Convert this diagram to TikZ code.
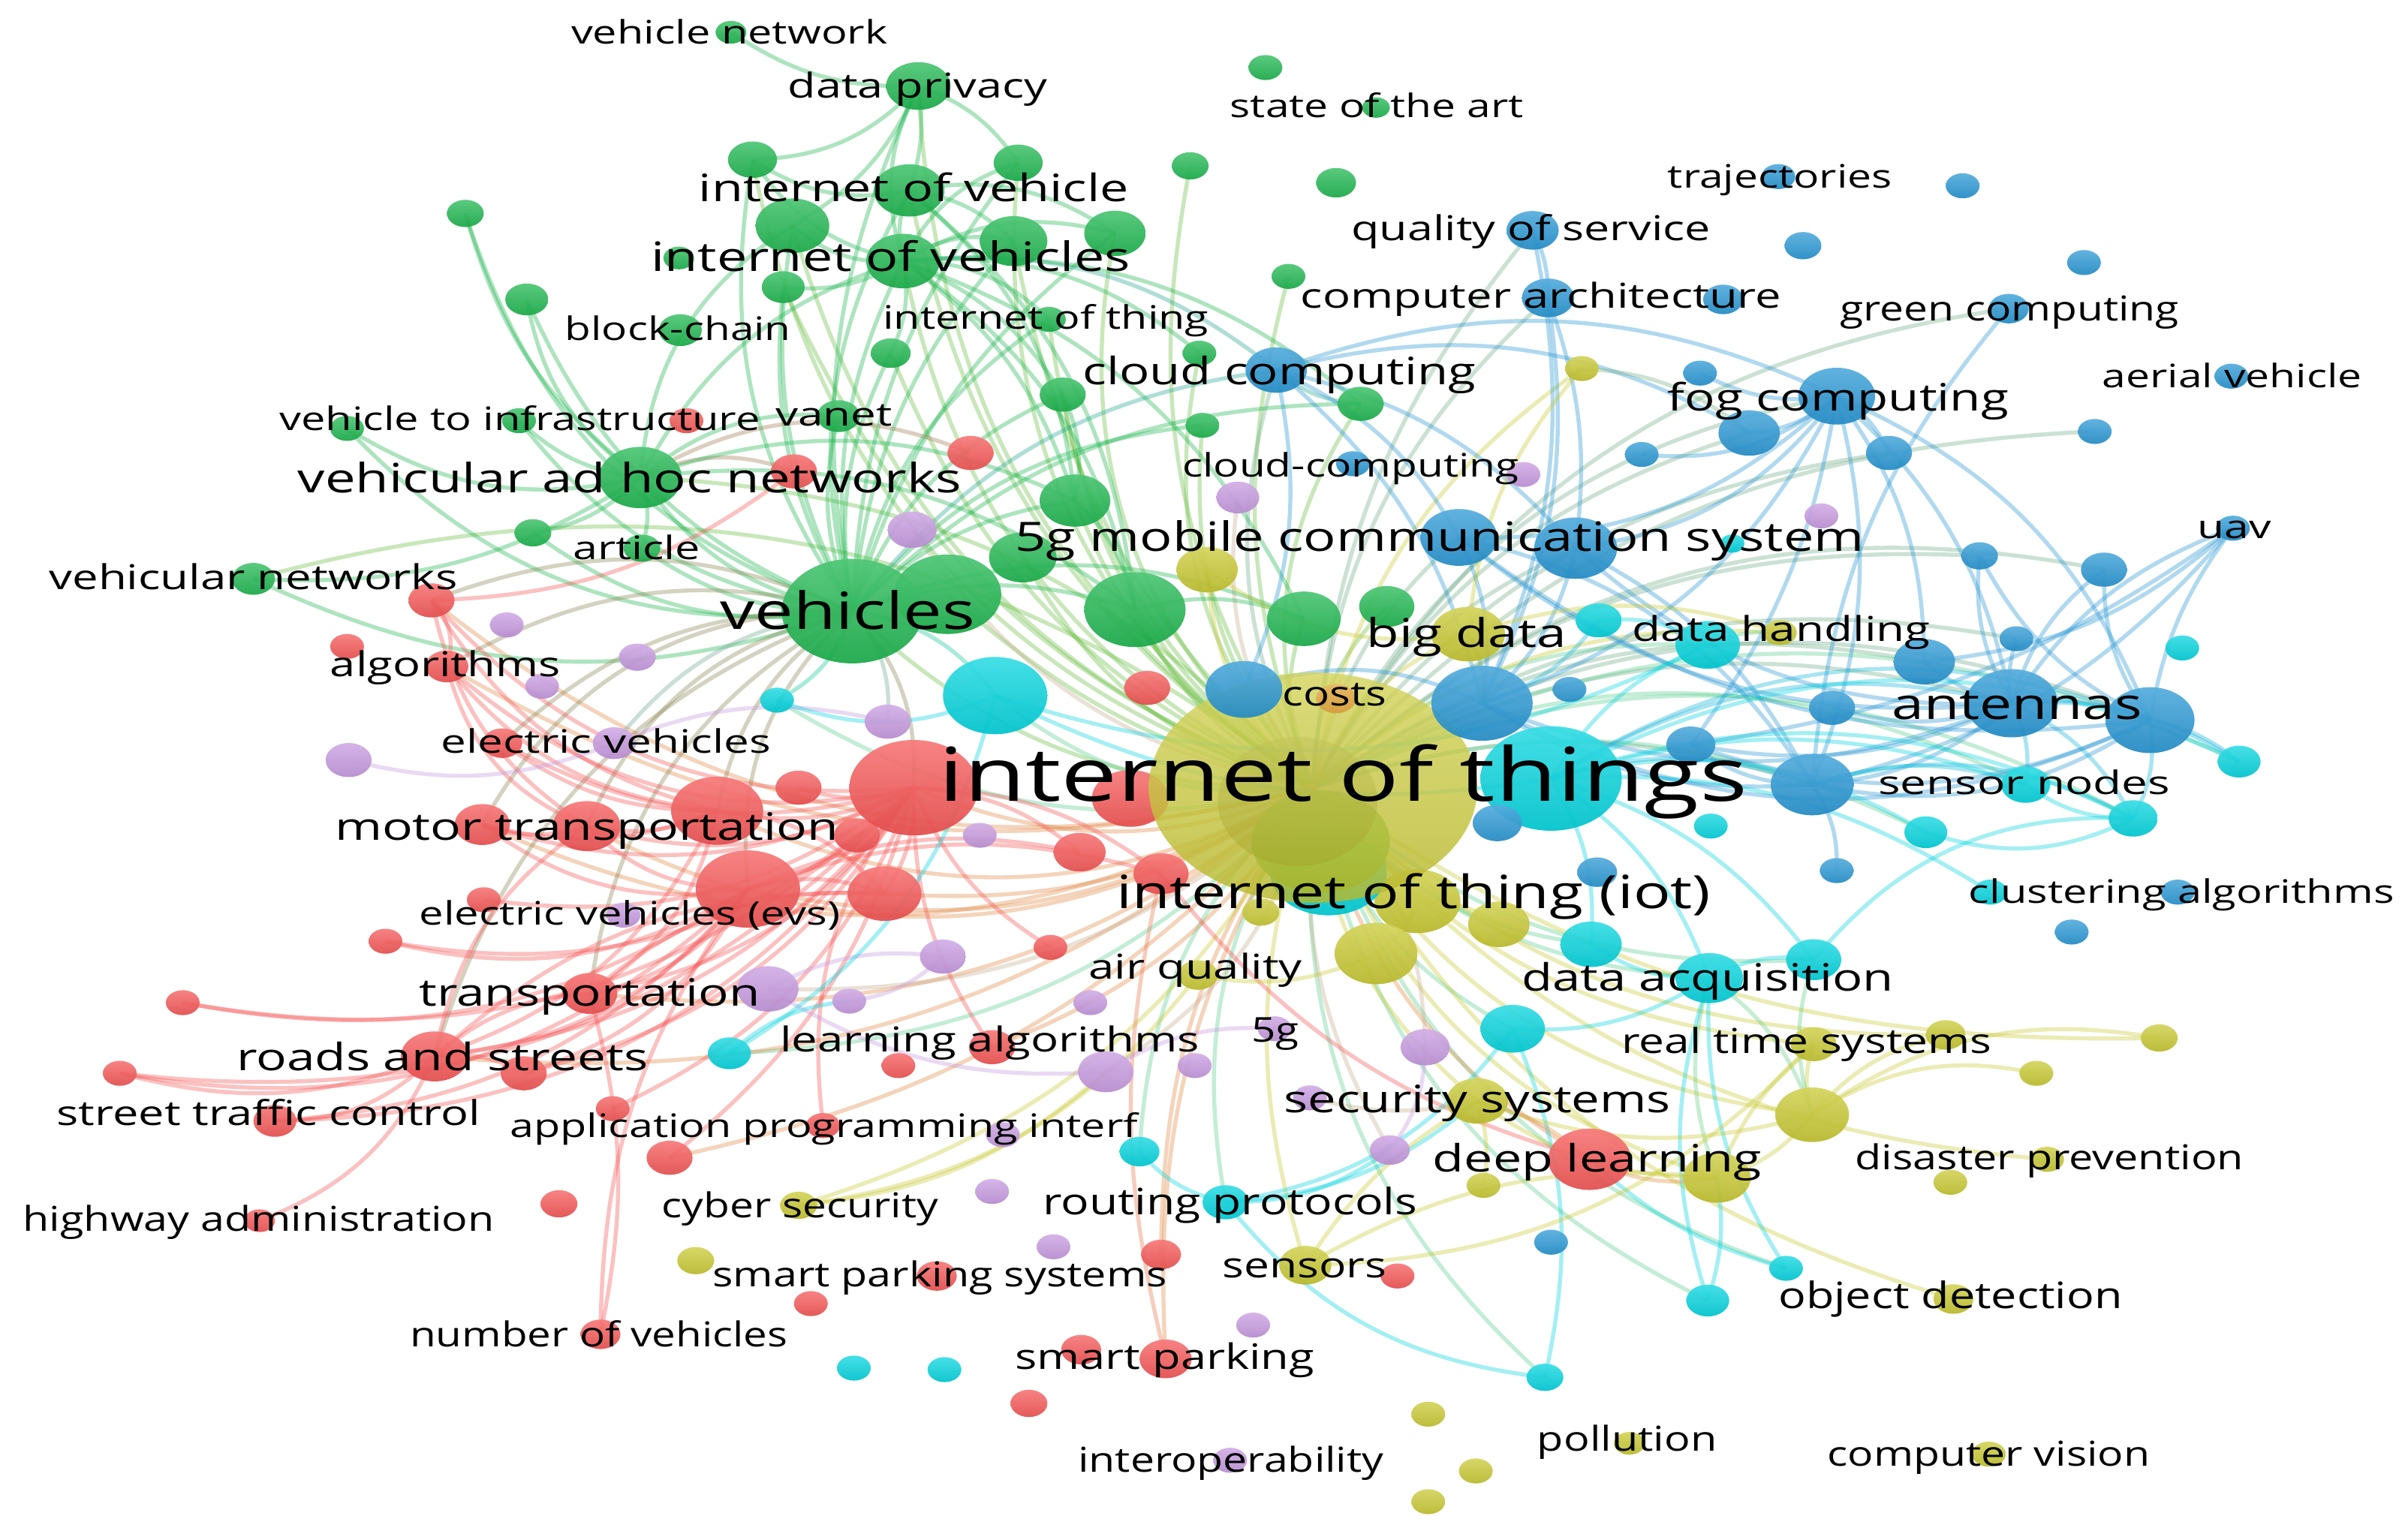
\documentclass[tikz,border=0pt]{standalone}
\usepackage{fontspec}
\setmainfont{Open Sans}
\usepackage{graphicx}
\usetikzlibrary{shapes.geometric}
\pgfdeclarelayer{bgl}
\pgfdeclarelayer{edges}
\pgfsetlayers{bgl,edges,main}
\definecolor{cG}{RGB}{28,182,78}
\definecolor{cR}{RGB}{246,84,84}
\definecolor{cB}{RGB}{38,150,212}
\definecolor{cY}{RGB}{200,200,48}
\definecolor{cP}{RGB}{198,152,224}
\definecolor{cC}{RGB}{0,212,222}
\definecolor{cO}{RGB}{232,150,50}
\tikzset{
 ball/.style={ellipse, inner sep=0pt, outer sep=0pt, draw=none, top color=#1!78!white, bottom color=#1!92!black, fill opacity=0.93},
 lbl/.style={inner sep=0pt, outer sep=0pt, text=black, yshift=-0.04cm},
 ed/.style={line width=1.5pt, draw=#1, draw opacity=0.36},
}
\newcommand\nd[5]{\node[ball=#2, minimum width=#5*0.04cm, minimum height=#5*0.0296cm] (#1) at (#3,#4) {};}
\newcommand\lab[6]{\node[lbl] (#1) at (#2,#3) {\resizebox{\dimexpr 0.02cm*#5\relax}{\height}{\fontsize{#4}{#4}\selectfont\vphantom{hg}#6}};}
\newcommand\edges[1]{\foreach \a/\b/\c/\d in {#1}{\pgfmathsetmacro\dd{2.2*\d}\draw[ed=\c] (\a.center) to[bend left=\dd] (\b.center);}}
\begin{document}
\begin{tikzpicture}[x=0.02cm,y=-0.02cm]
\useasboundingbox (0,0) rectangle (1568,1002.5);
\begin{pgfonlayer}{bgl}
\fill[white] (0,0) rectangle (1568,1002.5);
\end{pgfonlayer}
% ---------------- green
\nd{g1}{cG}{476}{21}{10}
\nd{g2}{cG}{598}{56}{21}
\nd{g3}{cG}{824}{44}{11}
\nd{g4}{cG}{896}{70}{9}
\nd{g5}{cG}{490}{104}{16}
\nd{g6}{cG}{663}{106}{16}
\nd{g7}{cG}{775}{108}{12}
\nd{g8}{cG}{870}{119}{13}
\nd{g9}{cG}{592}{124}{23}
\nd{g10}{cG}{303}{139}{12}
\nd{g11}{cG}{516}{147}{24}
\nd{g12}{cG}{660}{157}{22}
\nd{g13}{cG}{726}{152}{20}
\nd{g14}{cG}{588}{170}{24}
\nd{g15}{cG}{442}{168}{10}
\nd{g16}{cG}{839}{180}{11}
\nd{g17}{cG}{510}{187}{14}
\nd{g18}{cG}{343}{195}{14}
\nd{g19}{cG}{443}{215}{14}
\nd{g20}{cG}{683}{208}{11}
\nd{g21}{cG}{580}{230}{13}
\nd{g22}{cG}{781}{230}{11}
\nd{g23}{cG}{692}{257}{15}
\nd{g24}{cG}{886}{263}{15}
\nd{g25}{cG}{546}{271}{14}
\nd{g26}{cG}{783}{277}{11}
\nd{g27}{cG}{226}{279}{11}
\nd{g28}{cG}{338}{274}{11}
\nd{g29}{cG}{417}{311}{27}
\nd{g30}{cG}{700}{326}{23}
\nd{g31}{cG}{347}{347}{12}
\nd{g32}{cG}{418}{357}{12}
\nd{g33}{cG}{165}{377}{14}
\nd{g36}{cG}{666}{363}{22}
\nd{g37}{cG}{739}{397}{33}
\nd{g38}{cG}{849}{403}{24}
\nd{g39}{cG}{903}{395}{18}
\nd{g35}{cG}{617}{387}{35}
\nd{g34}{cG}{555}{398}{46}
% ---------------- red
\nd{r1}{cR}{447}{274}{11}
\nd{r2}{cR}{517}{307}{15}
\nd{r3}{cR}{632}{295}{15}
\nd{r4}{cR}{281}{391}{15}
\nd{r5}{cR}{226}{421}{11}
\nd{r6}{cR}{291}{434}{14}
\nd{r7}{cR}{327}{484}{13}
\nd{r8}{cR}{747}{448}{15}
\nd{r11}{cR}{520}{513}{15}
\nd{r12}{cR}{314}{537}{18}
\nd{r13}{cR}{382}{538}{22}
\nd{r14}{cR}{467}{528}{30}
\nd{r15}{cR}{558}{544}{15}
\nd{r16}{cR}{487}{579}{34}
\nd{r17}{cR}{576}{582}{24}
\nd{r18}{cR}{703}{555}{17}
\nd{r19}{cR}{756}{569}{18}
\nd{r9}{cR}{595}{513}{42}
\nd{r20}{cR}{315}{586}{11}
\nd{r21}{cR}{251}{613}{11}
\nd{r22}{cR}{684}{617}{11}
\nd{r23}{cR}{119}{653}{11}
\nd{r24}{cR}{384}{647}{18}
\nd{r25}{cR}{283}{688}{22}
\nd{r26}{cR}{341}{699}{15}
\nd{r27}{cR}{78}{699}{11}
\nd{r28}{cR}{179}{730}{14}
\nd{r29}{cR}{399}{722}{11}
\nd{r30}{cR}{436}{754}{15}
\nd{r31}{cR}{364}{784}{12}
\nd{r32}{cR}{169}{795}{10}
\nd{r33}{cR}{391}{869}{13}
\nd{r34}{cR}{646}{682}{15}
\nd{r35}{cR}{585}{694}{11}
\nd{r36}{cR}{536}{733}{11}
\nd{r37}{cR}{1035}{755}{27}
\nd{r38}{cR}{756}{817}{13}
\nd{r39}{cR}{610}{831}{13}
\nd{r40}{cR}{528}{849}{11}
\nd{r41}{cR}{910}{831}{11}
\nd{r42}{cR}{704}{879}{13}
\nd{r43}{cR}{759}{885}{17}
\nd{r44}{cR}{670}{914}{12}
% ---------------- purple
\nd{p1}{cP}{992}{309}{11}
\nd{p2}{cP}{806}{324}{14}
\nd{p3}{cP}{594}{345}{16}
\nd{p4}{cP}{330}{407}{11}
\nd{p5}{cP}{415}{428}{12}
\nd{p6}{cP}{353}{447}{11}
\nd{p7}{cP}{227}{495}{15}
\nd{p8}{cP}{400}{484}{14}
\nd{p9}{cP}{578}{470}{15}
\nd{p10}{cP}{638}{544}{11}
\nd{p11}{cP}{406}{596}{11}
\nd{p12}{cP}{500}{644}{20}
\nd{p13}{cP}{614}{623}{15}
\nd{p14}{cP}{553}{652}{11}
\nd{p15}{cP}{710}{653}{11}
\nd{p16}{cP}{830}{670}{11}
\nd{p17}{cP}{720}{698}{18}
\nd{p18}{cP}{778}{694}{11}
\nd{p19}{cP}{928}{682}{16}
\nd{p20}{cP}{653}{739}{11}
\nd{p21}{cP}{853}{715}{11}
\nd{p22}{cP}{905}{749}{13}
\nd{p23}{cP}{646}{776}{11}
\nd{p24}{cP}{686}{812}{11}
\nd{p25}{cP}{816}{863}{11}
\nd{p26}{cP}{801}{951}{11}
\nd{p27}{cP}{1186}{336}{11}
% ---------------- blue
\nd{b1}{cB}{998}{150}{17}
\nd{b2}{cB}{1008}{194}{17}
\nd{b3}{cB}{1158}{115}{11}
\nd{b4}{cB}{1278}{121}{11}
\nd{b5}{cB}{1174}{160}{12}
\nd{b6}{cB}{1357}{171}{11}
\nd{b7}{cB}{1122}{195}{13}
\nd{b8}{cB}{1308}{201}{13}
\nd{b9}{cB}{1107}{243}{11}
\nd{b10}{cB}{1453}{245}{11}
\nd{b12}{cB}{1139}{282}{20}
\nd{b11}{cB}{1196}{258}{25}
\nd{b13}{cB}{1364}{281}{11}
\nd{b14}{cB}{1069}{296}{11}
\nd{b15}{cB}{1230}{295}{15}
\nd{b16}{cB}{831}{241}{20}
\nd{b17}{cB}{881}{302}{11}
\nd{b18}{cB}{950}{350}{25}
\nd{b19}{cB}{1026}{357}{27}
\nd{b20}{cB}{1289}{362}{12}
\nd{b21}{cB}{1370}{371}{15}
\nd{b22}{cB}{1454}{344}{11}
\nd{b23}{cB}{1313}{416}{11}
\nd{b24}{cB}{1253}{431}{20}
\nd{b25}{cB}{1310}{458}{30}
\nd{b26}{cB}{1400}{469}{29}
\nd{b27}{cB}{1193}{461}{15}
\nd{b28}{cB}{1101}{485}{16}
\nd{b29}{cB}{1180}{511}{27}
\nd{b32}{cB}{1022}{449}{11}
\nd{b34}{cB}{1196}{567}{11}
\nd{b35}{cB}{1349}{607}{11}
\nd{b36}{cB}{1418}{581}{11}
\nd{b37}{cB}{1010}{809}{11}
\nd{b39}{cB}{1040}{568}{13}
% ---------------- cyan
\nd{c1}{cC}{506}{456}{11}
\nd{c2}{cC}{648}{453}{34}
\nd{c3}{cC}{1041}{404}{15}
\nd{c4}{cC}{1112}{420}{21}
\nd{c5}{cC}{1128}{354}{8}
\nd{c6}{cC}{1421}{422}{11}
\nd{c8}{cC}{1458}{496}{14}
\nd{c9}{cC}{1319}{511}{16}
\nd{c10}{cC}{1114}{538}{11}
\nd{c11}{cC}{1254}{542}{14}
\nd{c12}{cC}{1389}{533}{16}
\nd{c13}{cC}{1296}{581}{11}
\nd{c14}{cC}{1181}{625}{18}
\nd{c15}{cC}{1113}{637}{22}
\nd{c16}{cC}{1036}{615}{20}
\nd{c17}{cC}{985}{670}{21}
\nd{c18}{cC}{475}{686}{14}
\nd{c19}{cC}{742}{750}{13}
\nd{c20}{cC}{798}{783}{15}
\nd{c21}{cC}{556}{891}{11}
\nd{c22}{cC}{615}{892}{11}
\nd{c23}{cC}{1006}{897}{12}
\nd{c24}{cC}{1163}{826}{11}
\nd{c25}{cC}{1112}{847}{14}
% ---------------- yellow
\nd{y1}{cY}{1030}{240}{11}
\nd{y2}{cY}{786}{371}{20}
\nd{y3}{cY}{956}{413}{24}
\nd{y4}{cY}{1159}{412}{11}
\nd{y7}{cY}{821}{594}{12}
\nd{y9}{cY}{976}{602}{20}
\nd{y8}{cY}{923}{587}{28}
\nd{y10}{cY}{896}{621}{27}
\nd{y11}{cY}{780}{635}{13}
\nd{y12}{cY}{1181}{680}{15}
\nd{y13}{cY}{1267}{674}{13}
\nd{y14}{cY}{1406}{676}{12}
\nd{y15}{cY}{1326}{699}{11}
\nd{y16}{cY}{1180}{726}{24}
\nd{y17}{cY}{962}{717}{20}
\nd{y18}{cY}{966}{772}{11}
\nd{y19}{cY}{1118}{767}{22}
\nd{y20}{cY}{1333}{755}{11}
\nd{y21}{cY}{1270}{770}{11}
\nd{y22}{cY}{1272}{846}{13}
\nd{y23}{cY}{520}{785}{12}
\nd{y24}{cY}{453}{821}{12}
\nd{y25}{cY}{850}{824}{17}
\nd{y26}{cY}{930}{921}{11}
\nd{y27}{cY}{961}{958}{11}
\nd{y28}{cY}{930}{978}{11}
\nd{y29}{cY}{1061}{940}{10}
\nd{y30}{cY}{1295}{947}{11}
% ---------------- central cluster
\nd{c26}{cC}{865}{568}{38}
\nd{g40}{cG!70!cY}{860}{548}{45}
\nd{r10}{cR}{736}{520}{25}
\nd{c7}{cC}{1010}{507}{46}
\node[ball=cY, minimum width=214*0.02cm, minimum height=150*0.02cm, fill opacity=0.82] (y5) at (855,513) {};
\node[ball=cY!88!black, minimum width=104*0.02cm, minimum height=84*0.02cm, fill opacity=0.45] (y6) at (845,522) {};
\nd{b30}{cB}{810}{449}{25}
\nd{b31}{cB}{965}{458}{33}
\node[ball=cO, minimum width=26*0.02cm, minimum height=19*0.02cm, fill opacity=0.7] (o1) at (870,455) {};
\nd{b33}{cB}{975}{536}{16}
% ---------------- edges
\begin{pgfonlayer}{edges}
\edges{
y5/g2/cG!55!cY/12, y5/g9/cG!55!cY/10, y5/g14/cG!55!cY/12, y5/g12/cG!55!cY/8, y5/g13/cG!55!cY/14, y5/g21/cG!55!cY/10, y5/g23/cG!55!cY/10, y5/g30/cG!55!cY/8, y5/g34/cG!55!cY/10, y5/g35/cG!55!cY/6, y5/g36/cG!55!cY/10, y5/g37/cG!55!cY/8, y5/g38/cG!55!cY/10, y5/g39/cG!55!cY/10, y5/g24/cG!55!cY/12, y5/g26/cG!55!cY/10, y5/g6/cG!55!cY/14, y5/g7/cG!55!cY/10, y5/g5/cG!55!cY/14, y5/g11/cG!55!cY/12, y5/g17/cG!55!cY/10, y5/g29/cG!55!cY/-10, y5/g33/cG!55!cY/-12, y5/g20/cG!55!cY/10, y5/g22/cG!55!cY/12, y5/g16/cG!55!cY/8,
y5/b16/cB!55!cY/10, y5/b11/cB!55!cY/12, y5/b12/cB!55!cY/10, y5/b18/cB!55!cY/8, y5/b19/cB!55!cY/8, y5/b25/cB!55!cY/10, y5/b26/cB!55!cY/12, y5/b29/cB!55!cY/8, y5/b24/cB!55!cY/10, y5/b21/cB!55!cY/12, y5/b20/cB!55!cY/10, y5/b15/cB!55!cY/10, y5/b1/cB!55!cY/8, y5/b2/cB!55!cY/10, y5/b8/cB!55!cY/12, y5/b13/cB!55!cY/10, y5/b23/cB!55!cY/10,
y5/c2/cC!55!cY/10, y5/c4/cC!55!cY/10, y5/c9/cC!55!cY/12, y5/c11/cC!55!cY/10, y5/c12/cC!55!cY/12, y5/c14/cC!55!cY/-10, y5/c15/cC!55!cY/-10, y5/c16/cC!55!cY/-10, y5/c17/cC!55!cY/-10, y5/c19/cC!55!cY/-10, y5/c20/cC!55!cY/-10, y5/c23/cC!55!cY/-12, y5/c24/cC!55!cY/-12, y5/c25/cC!55!cY/-12, y5/c8/cC!55!cY/12, y5/c18/cC!55!cY/10, y5/c1/cC!55!cY/10,
y5/r9/cR!55!cY/10, y5/r14/cR!55!cY/12, y5/r16/cR!55!cY/10, y5/r13/cR!55!cY/14, y5/r17/cR!55!cY/8, y5/r24/cR!55!cY/10, y5/r25/cR!55!cY/10, y5/r37/cR!55!cY/-10, y5/r43/cR!55!cY/-8, y5/r38/cR!55!cY/-8, y5/r12/cR!55!cY/12, y5/r4/cR!55!cY/12, y5/r6/cR!55!cY/10, y5/r34/cR!55!cY/8, y5/r30/cR!55!cY/8,
y5/y12/cY/-10, y5/y16/cY/-12, y5/y17/cY/-10, y5/y19/cY/-12, y5/y22/cY/-10, y5/y25/cY/-8, y5/y13/cY/-10, y5/y14/cY/-8, y5/y3/cY/10, y5/y4/cY/10, y5/y2/cY/10, y5/y23/cY/10, y5/y1/cY/10, y5/y20/cY/-10,
y5/p12/cP!55!cY/10, y5/p17/cP!55!cY/10, y5/p19/cP!55!cY/10, y5/p22/cP!55!cY/-8, y5/p3/cP!55!cY/10, y5/p2/cP!55!cY/10}
\edges{
g34/g29/cG/10, g34/g33/cG/10, g34/g32/cG/8, g34/g31/cG/10, g34/g25/cG/8, g34/g14/cG/8, g34/g9/cG/10, g34/g11/cG/8, g34/g5/cG/10, g34/g18/cG/10, g34/g17/cG/8, g34/g21/cG/8, g34/g23/cG/10, g34/g30/cG/8, g34/g37/cG/8, g34/g38/cG/10, g34/g28/cG/10, g34/g27/cG/12, g34/g10/cG/12, g34/g2/cG/8, g34/g6/cG/8, g34/g12/cG/8, g34/g13/cG/8, g34/g24/cG/10, g34/g26/cG/10, g34/g20/cG/10,
g34/r9/cG!50!cR/10, g34/r14/cG!50!cR/-10, g34/r16/cG!50!cR/-12, g34/r13/cG!50!cR/-12, g34/r12/cG!50!cR/-14, g34/r4/cG!50!cR/-10, g34/r6/cG!50!cR/-10, g34/r24/cG!50!cR/-12, g34/r25/cG!50!cR/-12, g34/r7/cG!50!cR/-10,
g34/b16/cG!50!cB/10, g34/c2/cG!50!cC/10, g34/c1/cG!50!cC/10, g34/p8/cG!50!cP/-10, g34/p9/cG!50!cP/10,
g29/g33/cG/8, g29/g31/cG/8, g29/g32/cG/8, g29/g18/cG/10, g29/g28/cG/8, g29/g27/cG/10, g29/g25/cG/10, g29/g14/cG/10, g29/g11/cG/12, g29/g37/cG/10, g29/r2/cR!60!cG/10, g29/r3/cR!60!cG/12, g29/g30/cG/10, g29/g10/cG/8,
g14/g2/cG/10, g14/g5/cG/10, g14/g6/cG/10, g14/g9/cG/8, g14/g11/cG/10, g14/g12/cG/10, g14/g13/cG/10, g14/g17/cG/8, g14/g20/cG/10, g14/g21/cG/8, g14/g22/cG/10, g14/g23/cG/8, g14/g30/cG/8, g14/b16/cG!50!cB/10, g14/g37/cG/10, g14/g38/cG/10, g14/g24/cG/10,
g2/g1/cG/8, g2/g5/cG/10, g2/g6/cG/8, g2/g9/cG/6, g2/g11/cG/8,
g9/g5/cG/10, g9/g12/cG/8, g9/g13/cG/10, g9/g30/cG/10, g9/g37/cG/10,
g37/g38/cG/8, g30/g37/cG/8, g23/g30/cG/8, g24/b16/cG!50!cB/8}
\edges{
r9/r12/cR/10, r9/r13/cR/10, r9/r14/cR/8, r9/r16/cR/8, r9/r17/cR/8, r9/r24/cR/10, r9/r25/cR/10, r9/r26/cR/10, r9/r28/cR/12, r9/r4/cR/12, r9/r6/cR/12, r9/r7/cR/10, r9/r20/cR/10, r9/r21/cR/12, r9/r23/cR/12, r9/r27/cR/12, r9/r29/cR/10, r9/r30/cR/8, r9/r34/cR/-8, r9/r22/cR/-8, r9/r18/cR/8, r9/r19/cR/8, r9/r11/cR/8, r9/r15/cR/8, r9/r36/cR/-10,
r16/r24/cR/10, r16/r25/cR/10, r16/r13/cR/10, r16/r12/cR/10, r16/r28/cR/10, r16/r33/cR/-8, r16/r26/cR/10, r16/r21/cR/10, r16/r23/cR/10, r16/r27/cR/12, r16/r17/cR/8, r16/r18/cR/8, r16/r19/cR/8,
r14/r4/cR/10, r14/r6/cR/10, r14/r12/cR/8, r14/r13/cR/8, r14/r25/cR/10, r14/r24/cR/10, r14/r7/cR/8, r14/r17/cR/10,
r25/r28/cR/10, r25/r32/cR/10, r25/r27/cR/8, r25/r24/cR/8, r25/r26/cR/8, r25/r13/cR/10, r25/r17/cR/10,
r13/r4/cR/10, r13/r12/cR/8, r13/r6/cR/12, r4/r6/cR/14, r4/r2/cR/-8,
r19/r43/cR!70!cY/-6, r19/r37/cR/-8, r24/r17/cR/10, r24/r33/cR/6,
p17/p12/cP/8, p12/p13/cP/8, p17/p16/cP/8, p19/p22/cP/8, p13/p14/cP/8, p8/p7/cP/8, p8/p9/cP/8}
\edges{
b11/b12/cB/8, b11/b14/cB/10, b11/b15/cB/8, b11/b19/cB/10, b11/b25/cB/8, b11/b26/cB/10, b11/b29/cB/8, b11/b31/cB/10, b11/b18/cB/10, b11/b9/cB/8, b11/b28/cB/6, b11/b24/cB/8,
b8/b29/cB/-8, b1/b2/cB/6, b2/b19/cB/6, b2/b31/cB/8, b1/b31/cB/8,
b25/b20/cB/8, b25/b21/cB/8, b25/b22/cB/8, b25/b23/cB/6, b25/b24/cB/6, b25/b26/cB/6, b25/b27/cB/8, b25/b28/cB/8, b25/b29/cB/8, b25/b31/cB/10, b25/b19/cB/10, b25/b18/cB/10, b25/c8/cC!50!cB/8, b25/c12/cC!50!cB/8, b25/c9/cC!50!cB/8,
b26/b21/cB/8, b26/b22/cB/6, b26/c8/cC!50!cB/6, b26/c12/cC!50!cB/8, b26/b29/cB/10, b26/b28/cB/10, b26/b31/cB/12, b26/b20/cB/8, b26/b18/cB/10,
b22/b24/cB/8, b22/b29/cB/8, b22/b28/cB/6,
b16/b18/cB/8, b16/b19/cB/8, b16/b31/cB/8, b16/b30/cB/8, b16/b11/cB/10, b16/b12/cB/10,
b18/b31/cB/8, b19/b31/cB/8, b19/b29/cB/8, b18/b29/cB/10, b30/b31/cB/10,
b29/b28/cB/8, b29/b31/cB/8, b29/c9/cC!60!cB/8, b29/c12/cC!60!cB/10, b29/b34/cB/8}
\edges{
c7/c9/cC/8, c7/c11/cC/10, c7/c12/cC/10, c7/c4/cC/8, c7/c2/cC/8, c7/c15/cC/8, c7/c14/cC/8, c7/c16/cC/8, c7/b29/cC!50!cB/8, c7/b25/cC!50!cB/10, c7/b26/cC!50!cB/12, c7/c8/cC/12, c7/c13/cC/8,
c15/c14/cC/8, c15/c16/cC/8, c15/c17/cC/8, c15/y16/cC!50!cY/8, c15/y19/cC!50!cY/-8, c15/c24/cC/-8, c15/c25/cC/-8,
c12/c9/cC/8, c12/c11/cC/10, c12/c14/cC/-12,
c20/c19/cC/8, c20/p22/cC/-8, c20/y17/cC/-8, c20/c23/cC/-10, c20/c17/cC/-10,
c2/c1/cC/10, c2/c4/cC/-10, c2/c18/cC/10, c18/p14/cC/8, c17/c23/cC/8, r37/c24/cC/-6,
c3/c4/cC/8, c3/b31/cC!50!cB/8, c4/y4/cC!50!cY/6,
y16/y12/cY/8, y16/y13/cY/8, y16/y17/cY/8, y16/y19/cY/8, y16/y14/cY/10, y16/y15/cY/10, y16/c14/cY!50!cC/8,
y19/y17/cY/8, y19/y12/cY/6, y19/c25/cC/6, y19/r37/cR!50!cY/8, y19/y25/cY/-8, y17/y25/cY/-6, y17/p21/cY!50!cP/6, y17/r37/cR!50!cY/6, y17/y18/cY/6,
y25/y12/cY/-10, y23/p17/cY/-8, y23/y11/cY/-10,
y8/y10/cY/8, y8/y9/cY/8, y10/y11/cY/8, y3/y2/cY/10, y3/y4/cY/8, y3/b31/cB!50!cY/8, y1/b12/cY!50!cB/8, y1/y3/cY/-8}
\end{pgfonlayer}
% ---------------- labels
\lab{l1}{475}{21}{12}{206}{vehicle network}
\lab{l2}{597.5}{56}{12.7}{169}{data privacy}
\lab{l3}{896.5}{69}{12}{191}{state of the art}
\lab{l4}{595}{123}{14}{280}{internet of vehicle}
\lab{l5}{580}{168}{15}{312}{internet of vehicles}
\lab{l6}{1159}{115}{12}{146}{trajectories}
\lab{l7}{997}{149}{12.7}{234}{quality of service}
\lab{l8}{1003.5}{193}{12.7}{313}{computer architecture}
\lab{l9}{1308.5}{201}{12.7}{221}{green computing}
\lab{l10}{441.5}{214}{12}{147}{block-chain}
\lab{l11}{681}{207}{12}{212}{internet of thing}
\lab{l12}{833}{242}{14}{256}{cloud computing}
\lab{l13}{1453.5}{245}{12}{169}{aerial vehicle}
\lab{l14}{1197}{259}{14}{222}{fog computing}
\lab{l15}{338.5}{273}{12}{313}{vehicle to infrastructure}
\lab{l16}{543}{270}{12}{76}{vanet}
\lab{l17}{879.5}{303}{12}{219}{cloud-computing}
\lab{l18}{410}{312}{15}{432}{vehicular ad hoc networks}
\lab{l19}{937.5}{350}{15}{553}{5g mobile communication system}
\lab{l20}{1455}{343}{12}{48}{uav}
\lab{l21}{414.5}{357}{12}{83}{article}
\lab{l22}{165}{376}{12.7}{266}{vehicular networks}
\lab{l23}{552}{399}{19}{166}{vehicles}
\lab{l24}{955}{413}{14.7}{130}{big data}
\lab{l25}{1160}{410}{12.7}{194}{data handling}
\lab{l26}{290}{433}{12.7}{150}{algorithms}
\lab{l27}{1313.5}{459}{16}{163}{antennas}
\lab{l28}{869}{452}{12.7}{68}{costs}
\lab{l29}{394.5}{483}{12}{215}{electric vehicles}
\lab{l30}{874.5}{507}{27.5}{527}{internet of things}
\lab{l31}{1318}{510}{12}{190}{sensor nodes}
\lab{l32}{382}{539}{14}{328}{motor transportation}
\lab{l33}{920.5}{582}{17}{387}{internet of thing (iot)}
\lab{l34}{1420.5}{581}{12}{277}{clustering algorithms}
\lab{l35}{410}{595}{12}{274}{electric vehicles (evs)}
\lab{l36}{778.5}{630}{12.7}{139}{air quality}
\lab{l37}{384}{647}{14}{222}{transportation}
\lab{l38}{1112}{637}{14}{242}{data acquisition}
\lab{l39}{644.5}{677}{12.7}{273}{learning algorithms}
\lab{l40}{830.5}{671}{12.7}{31}{5g}
\lab{l41}{1176.5}{678}{12.7}{241}{real time systems}
\lab{l42}{288}{689}{14}{268}{roads and streets}
\lab{l43}{175}{725}{12.7}{276}{street traffic control}
\lab{l44}{536.5}{733}{12}{409}{application programming interf}
\lab{l45}{962}{716}{14}{252}{security systems}
\lab{l46}{1040}{755}{14}{214}{deep learning}
\lab{l47}{1334.5}{754}{12.7}{253}{disaster prevention}
\lab{l48}{168.5}{794}{12.7}{307}{highway administration}
\lab{l49}{521}{785}{12.7}{180}{cyber security}
\lab{l50}{801}{783}{13.5}{244}{routing protocols}
\lab{l51}{612}{830}{12.7}{296}{smart parking systems}
\lab{l52}{849.5}{824}{13}{107}{sensors}
\lab{l53}{1270}{844}{13.5}{224}{object detection}
\lab{l54}{390}{869}{12.7}{246}{number of vehicles}
\lab{l55}{758.5}{884}{13}{195}{smart parking}
\lab{l56}{801.5}{951}{12.7}{199}{interoperability}
\lab{l57}{1059.5}{937}{12.7}{117}{pollution}
\lab{l58}{1295}{947}{12.7}{210}{computer vision}
\end{tikzpicture}
\end{document}
